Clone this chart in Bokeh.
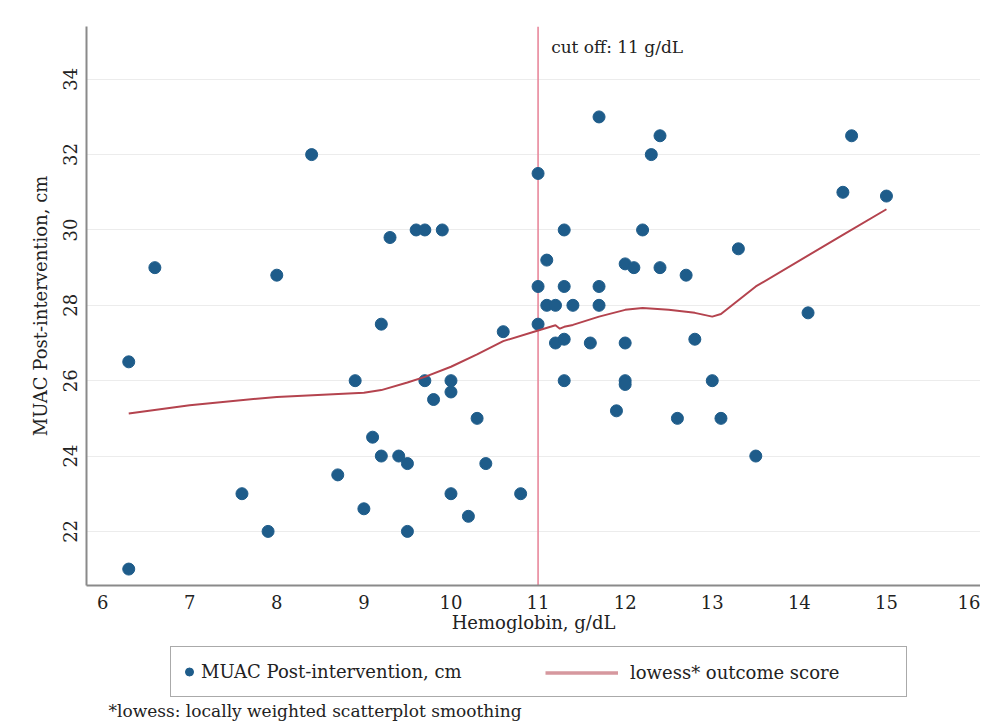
from bokeh.plotting import figure
from bokeh.layouts import column
from bokeh.models import Span, Label, Legend, LegendItem, FixedTicker, Range1d
from bokeh.embed import file_html
from bokeh.resources import INLINE

# --- data ---
hemoglobin = [6.3, 6.3, 6.6, 7.6, 7.9, 8.0, 8.4, 8.7, 8.9, 9.0,
              9.1, 9.2, 9.2, 9.3, 9.4, 9.5, 9.5, 9.6, 9.7, 9.7,
              9.8, 9.9, 10.0, 10.0, 10.0, 10.2, 10.3, 10.4, 10.6, 10.8,
              11.0, 11.0, 11.0, 11.1, 11.1, 11.2, 11.2, 11.3, 11.3, 11.3,
              11.3, 11.4, 11.6, 11.7, 11.7, 11.7, 11.9, 12.0, 12.0, 12.0,
              12.0, 12.1, 12.2, 12.3, 12.4, 12.4, 12.6, 12.7, 12.8, 13.0,
              13.1, 13.3, 13.5, 14.1, 14.5, 14.6, 15.0]
muac = [26.5, 21.0, 29.0, 23.0, 22.0, 28.8, 32.0, 23.5, 26.0, 22.6,
        24.5, 24.0, 27.5, 29.8, 24.0, 23.8, 22.0, 30.0, 30.0, 26.0,
        25.5, 30.0, 26.0, 25.7, 23.0, 22.4, 25.0, 23.8, 27.3, 23.0,
        31.5, 28.5, 27.5, 29.2, 28.0, 28.0, 27.0, 27.1, 28.5, 30.0,
        26.0, 28.0, 27.0, 33.0, 28.5, 28.0, 25.2, 29.1, 27.0, 26.0,
        25.9, 29.0, 30.0, 32.0, 32.5, 29.0, 25.0, 28.8, 27.1, 26.0,
        25.0, 29.5, 24.0, 27.8, 31.0, 32.5, 30.9]

lowess_x = [6.3, 7.0, 8.0, 9.0, 9.2, 9.5, 9.7, 10.0, 10.3, 10.6,
            11.0, 11.2, 11.25, 11.3, 11.4, 11.7, 12.0, 12.2, 12.5, 12.8,
            13.0, 13.1, 13.5, 14.5, 15.0]
lowess_y = [25.13, 25.35, 25.57, 25.68, 25.75, 25.95, 26.1, 26.37, 26.7, 27.05,
            27.33, 27.47, 27.38, 27.43, 27.48, 27.7, 27.88, 27.93, 27.88, 27.8,
            27.7, 27.77, 28.5, 29.87, 30.55]

x_ticks = [6, 7, 8, 9, 10, 11, 12, 13, 14, 15, 16]
y_ticks = [22, 24, 26, 28, 30, 32, 34]
cutoff = 11

x_title = "Hemoglobin, g/dL"
y_title = "MUAC Post-intervention, cm"
cutoff_text = "cut off: 11 g/dL"
scatter_label = "MUAC Post-intervention, cm"
lowess_label = "lowess* outcome score"
footnote = "*lowess: locally weighted scatterplot smoothing"

FONT = "DejaVu Serif"
TXT = "#222222"
DOT = "#1e5c8a"
LOW = "#b4434e"
CUT = "#e8889b"
W = 980
LEFT = 86

# ---------------- main chart ----------------
p = figure(width=W, height=640, output_backend="svg", toolbar_location=None,
           x_range=Range1d(5.815, 16.08), y_range=Range1d(20.564, 35.40),
           min_border_left=LEFT, min_border_right=0, min_border_top=26,
           min_border_bottom=55)
p.outline_line_color = None
p.background_fill_color = "white"
p.border_fill_color = "white"

p.xgrid.visible = False
p.ygrid.grid_line_color = "#ececec"
p.ygrid.grid_line_width = 1.2

for ax in (p.xaxis[0], p.yaxis[0]):
    ax.axis_line_color = "#8a8a8a"
    ax.axis_line_width = 2
    ax.major_tick_line_color = None
    ax.minor_tick_line_color = None
    ax.major_tick_out = 0
    ax.major_tick_in = 0
    ax.major_label_text_font = FONT
    ax.major_label_text_font_size = "18px"
    ax.major_label_text_color = TXT
    ax.axis_label_text_font = FONT
    ax.axis_label_text_font_size = "18px"
    ax.axis_label_text_font_style = "normal"
    ax.axis_label_text_color = TXT

p.xaxis.ticker = FixedTicker(ticks=x_ticks)
p.yaxis.ticker = FixedTicker(ticks=y_ticks)
p.xaxis.axis_label = x_title
p.yaxis.axis_label = y_title
p.xaxis.major_label_standoff = 9
p.xaxis.axis_label_standoff = 0
p.yaxis.major_label_orientation = "vertical"
p.yaxis.major_label_standoff = 9
p.yaxis.axis_label_standoff = 10

p.add_layout(Span(location=cutoff, dimension="height", line_color=CUT,
                  line_width=1.6, level="underlay"))

p.scatter(hemoglobin, muac, size=12, marker="circle",
          fill_color=DOT, line_color=DOT)
p.line(lowess_x, lowess_y, line_color=LOW, line_width=2)

p.add_layout(Label(x=cutoff + 0.15, y=34.85, text=cutoff_text,
                   text_font=FONT, text_font_size="17px", text_color=TXT,
                   text_baseline="middle"))

# ---------------- legend + footnote strip ----------------
# (its frame is aligned with the chart's frame, so positions are from x=LEFT)
q = figure(width=W, height=82, output_backend="svg", toolbar_location=None,
           x_range=Range1d(0, 1), y_range=Range1d(0, 1),
           min_border_left=LEFT, min_border_right=0, min_border_top=0,
           min_border_bottom=0)
q.axis.visible = False
q.grid.visible = False
q.outline_line_color = None
q.background_fill_color = "white"
q.border_fill_color = "white"

# the same series, out of this strip's view: used only as legend keys
key_dot = q.scatter(hemoglobin, muac, size=12, marker="circle",
                    fill_color=DOT, line_color=DOT)
key_line = q.line(lowess_x, lowess_y, line_color=LOW, line_width=3.5,
                  line_alpha=0.55)

leg_a = Legend(items=[LegendItem(label=scatter_label, renderers=[key_dot])],
               location=(170 - LEFT, 25), orientation="horizontal",
               glyph_width=20, glyph_height=33, label_height=33,
               label_width=697, padding=8, label_standoff=2, margin=0,
               border_line_color="#555555", border_line_width=1.2,
               background_fill_color="white", background_fill_alpha=1.0,
               label_text_font=FONT, label_text_font_size="18px",
               label_text_color=TXT)
leg_b = Legend(items=[LegendItem(label=lowess_label, renderers=[key_line])],
               location=(545 - LEFT, 33), orientation="horizontal",
               glyph_width=73, glyph_height=33, label_height=33,
               padding=0, label_standoff=12, margin=0,
               border_line_color=None, background_fill_alpha=0.0,
               label_text_font=FONT, label_text_font_size="18px",
               label_text_color=TXT)
q.add_layout(leg_a, "center")
q.add_layout(leg_b, "center")

q.add_layout(Label(x=108 - LEFT, y=12, x_units="screen", y_units="screen",
                   text=footnote, text_font=FONT, text_font_size="17px",
                   text_color=TXT, text_baseline="middle"))

layout = column(p, q, spacing=0)
open("out.html", "w").write(file_html(layout, INLINE))
